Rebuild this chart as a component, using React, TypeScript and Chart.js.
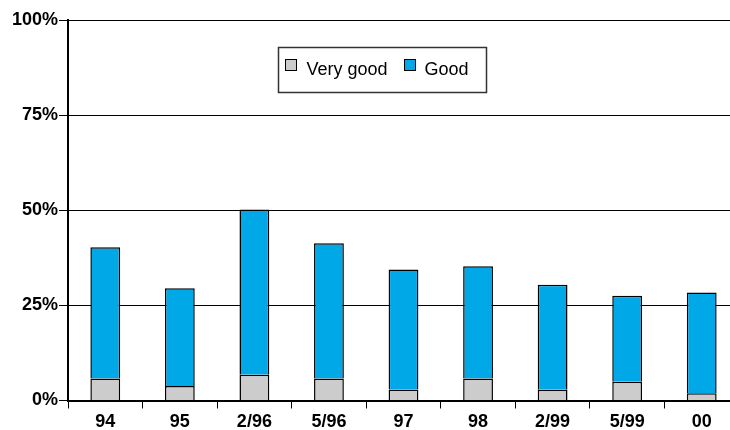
import React, { useEffect, useRef } from "react";
import { Chart, registerables } from "chart.js";

Chart.register(...registerables);

const categories = ["94", "95", "2/96", "5/96", "97", "98", "2/99", "5/99", "00"];
const veryGood = [5.8, 3.8, 6.8, 5.8, 2.9, 5.8, 2.8, 4.9, 1.9];
const good = [34.5, 25.7, 43.4, 35.5, 31.5, 29.5, 27.6, 22.6, 26.5];
const yTicks = [0, 25, 50, 75, 100];

const legendBox = {
  id: "legendBox",
  afterDatasetsDraw(chart: any) {
    const ctx = chart.ctx;
    const x = 278, y = 47, w = 208, h = 45;
    ctx.save();
    ctx.fillStyle = "#ffffff";
    ctx.fillRect(x, y, w, h);
    ctx.strokeStyle = "#333333";
    ctx.lineWidth = 1.5;
    ctx.strokeRect(x + 0.5, y + 0.5, w, h);
    ctx.font = "18px 'Liberation Sans', Arial, sans-serif";
    ctx.textBaseline = "middle";
    const items = [
      { sx: 285.5, tx: 306.5 },
      { sx: 404.5, tx: 424.5 },
    ];
    chart.data.datasets.forEach((ds: any, i: number) => {
      const it = items[i];
      ctx.fillStyle = ds.backgroundColor;
      ctx.fillRect(it.sx, 59.5, 11, 11);
      ctx.strokeStyle = "#000000";
      ctx.lineWidth = 1;
      ctx.strokeRect(it.sx, 59.5, 11, 11);
      ctx.fillStyle = "#000000";
      ctx.fillText(ds.label, it.tx, 70);
    });
    ctx.restore();
  },
};

export default function App() {
  const ref = useRef<HTMLCanvasElement>(null);
  useEffect(() => {
    document.documentElement.style.overflow = "hidden";
    document.body.style.overflow = "hidden";
    const font = { family: "'Liberation Sans', Arial, sans-serif", size: 18, weight: "bold" as const };
    const chart = new Chart(ref.current!, {
      type: "bar",
      data: {
        labels: categories,
        datasets: [
          {
            label: "Very good",
            data: veryGood,
            backgroundColor: "#cccccc",
            borderColor: "#000000",
            borderWidth: 1.5,
            barPercentage: 0.4,
            categoryPercentage: 1,
          },
          {
            label: "Good",
            data: good,
            backgroundColor: "#00a8e8",
            borderColor: "#000000",
            borderWidth: 1.5,
            barPercentage: 0.4,
            categoryPercentage: 1,
          },
        ],
      },
      options: {
        animation: false,
        responsive: false,
        maintainAspectRatio: false,
        layout: { padding: { top: 20, right: 0, left: 0, bottom: 0 } },
        plugins: { legend: { display: false }, tooltip: { enabled: false } },
        scales: {
          x: {
            stacked: true,
            offset: true,
            grid: {
              display: true,
              drawOnChartArea: false,
              drawTicks: true,
              tickLength: 8,
              color: "#000000",
              lineWidth: 1,
              offset: true,
            },
            border: { display: true, color: "#000000", width: 2 },
            ticks: { color: "#000000", font, padding: 3 },
            afterFit(scale: any) {
              scale.height = 29.5;
            },
          },
          y: {
            stacked: true,
            min: 0,
            max: 100,
            afterBuildTicks(scale: any) {
              scale.ticks = yTicks.map((v) => ({ value: v }));
            },
            grid: {
              color: "#000000",
              lineWidth: 1,
              tickLength: 9,
              drawTicks: true,
            },
            border: { display: true, color: "#000000", width: 2 },
            ticks: {
              color: "#000000",
              font,
              padding: 1,
              callback: (v: any) => v + "%",
            },
            afterFit(scale: any) {
              scale.width = 68;
            },
          },
        },
      },
      plugins: [legendBox],
    });
    return () => chart.destroy();
  }, []);
  return (
    <div style={{ position: "fixed", left: 0, top: 0, width: 739, height: 430, background: "#fff" }}>
      <canvas ref={ref} width={739} height={430} style={{ width: 739, height: 430 }} />
    </div>
  );
}
